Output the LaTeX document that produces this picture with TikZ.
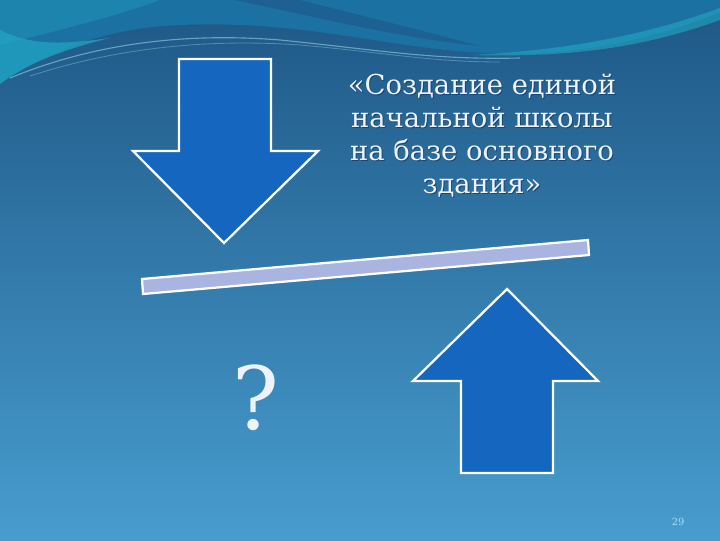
\documentclass[tikz,border=0pt]{standalone}
\usepackage{fontspec}
\setmainfont{DejaVu Serif}
\usepackage{tikz}
\definecolor{bgtop}{HTML}{1E5786}
\definecolor{bgbot}{HTML}{479DCE}
\definecolor{capteal}{HTML}{1B72A2}
\definecolor{wave}{HTML}{22A8C6}
\definecolor{arrowfill}{HTML}{1466BF}
\definecolor{beam}{HTML}{A9B4E0}
\definecolor{txt}{HTML}{EEF3FF}
\definecolor{shadowc}{HTML}{1A4670}
\definecolor{pagenum}{HTML}{A8DCF8}

\tikzset{
  bigarrow/.style={draw=white, line width=1.6pt, fill=arrowfill, line join=miter},
  beambar/.style={draw=white, line width=1.6pt, fill=beam},
  titletext/.style={align=center, font=\fontsize{19.5}{23.5}\selectfont},
}

\begin{document}
\begin{tikzpicture}[x=0.025cm, y=-0.025cm]
\useasboundingbox (0,0) rectangle (720,540);
% background
\shade[top color=bgtop, bottom color=bgbot] (0,0) rectangle (720,540);
\fill[fill=capteal] (0,0) -- (720,0) -- (720,12) .. controls (640,45) and (560,58) .. (470,52) .. controls (380,46) and (300,20) .. (180,25) .. controls (100,28) and (40,55) .. (0,84) -- cycle;
\fill[wave, opacity=0.7] (0,30) .. controls (30,45) and (60,45) .. (110,38) .. controls (60,50) and (25,65) .. (0,84) -- cycle;
\fill[wave, opacity=0.35] (0,0) -- (160,0) .. controls (120,15) and (60,30) .. (0,45) -- cycle;
\fill[bgtop, opacity=0.6] (235,0) .. controls (320,18) and (400,38) .. (480,46) .. controls (420,30) and (340,10) .. (300,0) -- cycle;
\fill[wave, opacity=0.6] (470,55) .. controls (580,50) and (660,30) .. (720,8) -- (720,20) .. controls (650,45) and (580,58) .. (470,55) -- cycle;
\draw[wave!50!white, opacity=0.6, line width=0.8pt] (10,78) .. controls (90,45) and (180,32) .. (280,40) .. controls (380,50) and (430,60) .. (520,58);
\draw[wave!50!white, opacity=0.4, line width=0.6pt] (30,76) .. controls (110,50) and (200,38) .. (300,45) .. controls (380,52) and (430,62) .. (500,62);

% down arrow
\coordinate (dtip) at (224,243);
\draw[bigarrow] (179,59) -- (271,59) -- (271,151) -- (318,151) -- (dtip) -- (133,151) -- (179,151) -- cycle;

% up arrow
\coordinate (utip) at (507,289);
\draw[bigarrow] (461,473) -- (553,473) -- (553,381) -- (598,381) -- (utip) -- (413,381) -- (461,381) -- cycle;

% beam
\draw[beambar] (142,279) -- (588,240) -- (589,255) -- (143,294) -- cycle;

% texts
\node[titletext, text=shadowc] (titleshadow) at (483,137)
  {«Создание единой\\начальной школы\\на базе основного\\здания»};
\node[titletext, text=txt] (title) at (482,136)
  {«Создание единой\\начальной школы\\на базе основного\\здания»};
\node[text=txt, font=\fontsize{62}{62}\selectfont] (quest) at (256,398) {?};
\node[text=pagenum, font=\fontsize{7}{8}\selectfont] (page) at (678,522) {29};
\end{tikzpicture}
\end{document}
